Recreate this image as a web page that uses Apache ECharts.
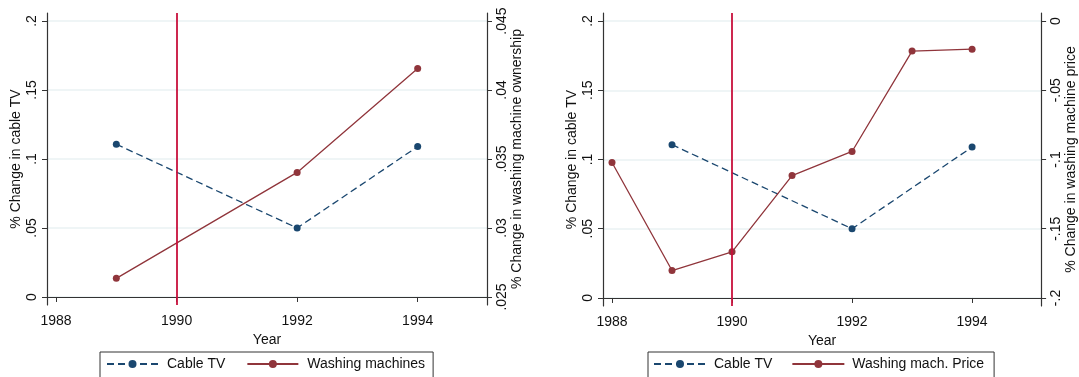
<!DOCTYPE html>
<html>
<head>
<meta charset="utf-8">
<script src="https://cdn.jsdelivr.net/npm/echarts@6/dist/echarts.min.js"></script>
<style>
html,body{margin:0;padding:0;background:#fff;}
#chart{width:1079px;height:377px;}
</style>
</head>
<body>
<div id="chart"></div>
<script>
// ---- data ----
const yearTicks = [1988, 1990, 1992, 1994];
const cableYears = [1989, 1992, 1994];
const cableTV = [0.1107, 0.0500, 0.1090];
const washYears = [1989, 1992, 1994];
const washOwnership = [0.02635, 0.03403, 0.04156];
const priceYears = [1988, 1989, 1990, 1991, 1992, 1993, 1994];
const washPrice = [-0.1022, -0.1802, -0.1667, -0.1116, -0.0942, -0.0217, -0.0203];
const leftTicks = [0, 0.05, 0.1, 0.15, 0.2];
const ownTicks = [0.025, 0.03, 0.035, 0.04, 0.045];
const priceTicks = [-0.2, -0.15, -0.1, -0.05, 0];
const reformYear = 1990;

const FONT = '"Liberation Sans", Arial, Helvetica, sans-serif';
const CABLE = '#1a476f';
const WASH = '#90353b';
const VLINE = '#c8103c';
const AXC = '#333333';
const GRIDC = '#eaf2f3';

function fmt(v) {
  const s = String(+(+v).toFixed(4));
  return s.replace(/^(-?)0\./, '$1.');
}
function pairs(xs, ys) { return xs.map((x, i) => [x, ys[i]]); }

function xAxis(gi) {
  return {
    type: 'value', gridIndex: gi, min: 1987.85, max: 1995.15,
    name: 'Year', nameLocation: 'middle', nameGap: 22,
    nameTextStyle: {fontFamily: FONT, fontSize: 14, color: '#111'},
    axisLine: {show: true, lineStyle: {color: AXC, width: 1.2}},
    axisTick: {show: true, length: 5, customValues: yearTicks, lineStyle: {color: AXC}},
    axisLabel: {customValues: yearTicks, fontFamily: FONT, fontSize: 14, color: '#111', margin: 9,
      formatter: v => String(v)},
    splitLine: {show: false}
  };
}
function yAxis(gi, pos, min, max, ticks, name, gap, grid) {
  return {
    type: 'value', gridIndex: gi, position: pos, min: min, max: max,
    name: name, nameLocation: 'middle', nameGap: gap,
    nameTextStyle: {fontFamily: FONT, fontSize: 14, color: '#111'},
    axisLine: {show: true, onZero: false, lineStyle: {color: AXC, width: 1.2}},
    axisTick: {show: true, length: 5, customValues: ticks, lineStyle: {color: AXC}},
    axisLabel: {customValues: ticks, rotate: 90, fontFamily: FONT, fontSize: 14, color: '#111',
      margin: 8, formatter: fmt},
    splitLine: {show: grid, lineStyle: {color: GRIDC, width: 1.5}}
  };
}

const option = {
  animation: false,
  backgroundColor: '#fff',
  grid: [
    {left: 47, top: 13, width: 440, height: 292},
    {left: 603, top: 13, width: 439, height: 293}
  ],
  xAxis: [xAxis(0), xAxis(1)],
  yAxis: [
    yAxis(0, 'left', -0.0058, 0.2058, leftTicks, '% Change in cable TV', 24, true),
    yAxis(0, 'right', 0.02442, 0.04558, ownTicks, '% Change in washing machine ownership', 23, false),
    yAxis(1, 'left', -0.0058, 0.2058, leftTicks, '% Change in cable TV', 24, true),
    yAxis(1, 'right', -0.2058, 0.0058, priceTicks, '% Change in washing machine price', 20, false)
  ],
  legend: [
    {left: 100, top: 352, orient: 'horizontal',
     data: ['Cable TV', 'Washing machines'],
     itemWidth: 51, itemHeight: 10, itemGap: 21,
     padding: [5, 8, 14, 6], borderColor: '#333', borderWidth: 1,
     textStyle: {fontFamily: FONT, fontSize: 14, color: '#111', padding: [0, 0, 0, 4]}},
    {left: 648, top: 352, orient: 'horizontal',
     data: ['Cable TV', 'Washing mach. Price'],
     itemWidth: 52, itemHeight: 10, itemGap: 19,
     padding: [5, 10, 14, 5], borderColor: '#333', borderWidth: 1,
     textStyle: {fontFamily: FONT, fontSize: 14, color: '#111', padding: [0, 0, 0, 3]}}
  ],
  series: [
    {name: 'Cable TV', type: 'line', xAxisIndex: 0, yAxisIndex: 0, data: pairs(cableYears, cableTV),
     symbol: 'circle', symbolSize: 7, itemStyle: {color: CABLE},
     lineStyle: {color: CABLE, width: 1.3, type: [7, 4]},
     markLine: {silent: true, symbol: 'none', label: {show: false},
       lineStyle: {color: VLINE, width: 1.8, type: 'solid'}, data: [{xAxis: reformYear}]}},
    {name: 'Washing machines', type: 'line', xAxisIndex: 0, yAxisIndex: 1, data: pairs(washYears, washOwnership),
     symbol: 'circle', symbolSize: 7, itemStyle: {color: WASH},
     lineStyle: {color: WASH, width: 1.3}},
    {name: 'Cable TV', type: 'line', xAxisIndex: 1, yAxisIndex: 2, data: pairs(cableYears, cableTV),
     symbol: 'circle', symbolSize: 7, itemStyle: {color: CABLE},
     lineStyle: {color: CABLE, width: 1.3, type: [7, 4]},
     markLine: {silent: true, symbol: 'none', label: {show: false},
       lineStyle: {color: VLINE, width: 1.8, type: 'solid'}, data: [{xAxis: reformYear}]}},
    {name: 'Washing mach. Price', type: 'line', xAxisIndex: 1, yAxisIndex: 3, data: pairs(priceYears, washPrice),
     symbol: 'circle', symbolSize: 7, itemStyle: {color: WASH},
     lineStyle: {color: WASH, width: 1.3}}
  ]
};

const chart = echarts.init(document.getElementById('chart'), null, {renderer: 'canvas'});
chart.setOption(option);
</script>
</body>
</html>
